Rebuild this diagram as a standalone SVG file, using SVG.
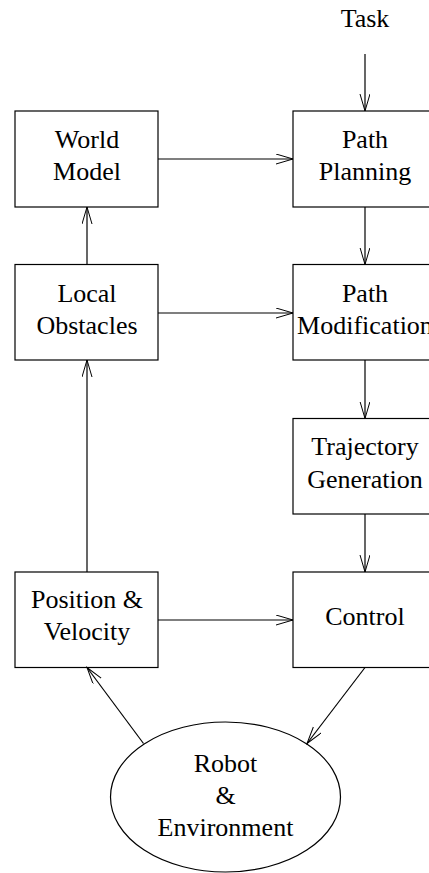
<svg xmlns="http://www.w3.org/2000/svg" width="429" height="873" viewBox="0 0 429 873">
<defs>
<marker id="ah" markerWidth="20" markerHeight="12" refX="17" refY="5" orient="auto" markerUnits="userSpaceOnUse">
<path d="M0,0 L17,5 L0,10" fill="none" stroke="#000" stroke-width="1"/>
</marker>
</defs>
<style>
.box{fill:#fff;stroke:#000;stroke-width:1.2}
.t{font-family:"Liberation Serif","Times New Roman",serif;font-size:26px;text-anchor:middle;fill:#000}
.c{fill:none;stroke:#000;stroke-width:1.2;marker-end:url(#ah)}
</style>
<rect width="429" height="873" fill="#fff"/>
<g id="task"><text class="t" x="365" y="27">Task</text></g>
<g id="world-model"><rect class="box" x="15" y="111" width="143" height="96"/><text class="t" x="87" y="148">World</text><text class="t" x="87" y="180">Model</text></g>
<g id="path-planning"><rect class="box" x="293" y="111" width="144" height="96"/><text class="t" x="365" y="148">Path</text><text class="t" x="365" y="180">Planning</text></g>
<g id="local-obstacles"><rect class="box" x="15" y="264.5" width="143" height="95.5"/><text class="t" x="87" y="302">Local</text><text class="t" x="87" y="334">Obstacles</text></g>
<g id="path-modification"><rect class="box" x="293" y="264.5" width="144" height="95.5"/><text class="t" x="365" y="302">Path</text><text class="t" x="365" y="334">Modification</text></g>
<g id="trajectory-generation"><rect class="box" x="293" y="418.5" width="144" height="95.5"/><text class="t" x="365" y="455">Trajectory</text><text class="t" x="365" y="488">Generation</text></g>
<g id="position-velocity"><rect class="box" x="15" y="572" width="143" height="95.5"/><text class="t" x="87" y="608">Position &amp;</text><text class="t" x="87" y="640">Velocity</text></g>
<g id="control"><rect class="box" x="293" y="572" width="144" height="95.5"/><text class="t" x="365" y="625">Control</text></g>
<g id="robot-environment"><ellipse class="box" cx="225.5" cy="797" rx="115" ry="75"/><text class="t" x="225.5" y="772">Robot</text><text class="t" x="225.5" y="804">&amp;</text><text class="t" x="225.5" y="836">Environment</text></g>
<g id="connectors">
<line class="c" x1="365" y1="54" x2="365" y2="111"/>
<line class="c" x1="158" y1="159" x2="293" y2="159"/>
<line class="c" x1="365" y1="207" x2="365" y2="264.5"/>
<line class="c" x1="87" y1="264.5" x2="87" y2="207"/>
<line class="c" x1="158" y1="313" x2="293" y2="313"/>
<line class="c" x1="365" y1="360" x2="365" y2="418.5"/>
<line class="c" x1="87" y1="572" x2="87" y2="360"/>
<line class="c" x1="365" y1="514" x2="365" y2="572"/>
<line class="c" x1="158" y1="620" x2="293" y2="620"/>
<line class="c" x1="365" y1="667.5" x2="307" y2="743.5"/>
<line class="c" x1="143.5" y1="743.5" x2="87" y2="667.5"/>
</g>
</svg>
